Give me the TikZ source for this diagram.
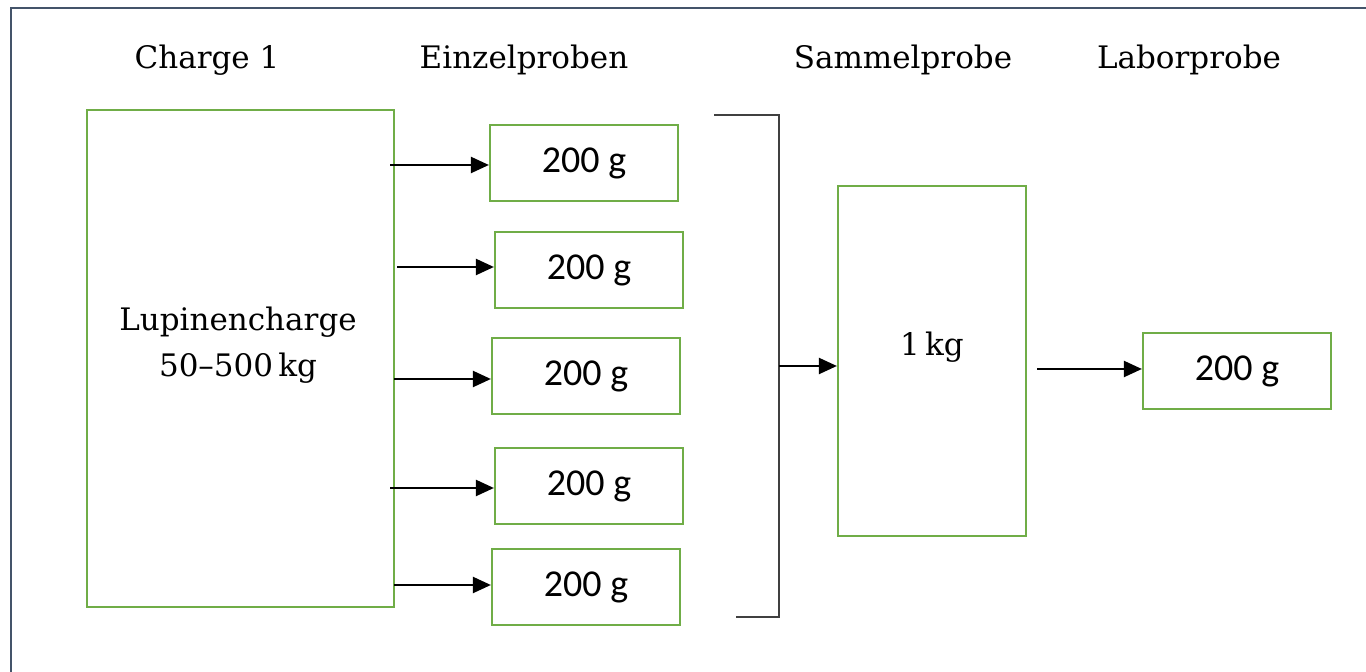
\documentclass[tikz,border=0pt]{standalone}
\usepackage{fontspec}
\setmainfont{DejaVu Serif}
\newfontfamily\carl{Carlito}
\usetikzlibrary{arrows.meta}
\definecolor{boxgreen}{HTML}{70AD47}
\definecolor{framecol}{HTML}{44546A}
\definecolor{brk}{HTML}{404040}
\begin{document}
\begin{tikzpicture}[x=0.5pt,y=-0.5pt,
  gbox/.style={draw=boxgreen,line width=1.1pt,rectangle,inner sep=0pt},
  smallbox/.style={gbox,minimum width=94pt,minimum height=38pt,font=\carl\fontsize{19}{22}\selectfont},
  head/.style={inner sep=0pt,font=\fontsize{15.5}{23}\selectfont},
  flow/.style={line width=1.1pt,-{Triangle[length=9pt,width=8pt]}}]
\useasboundingbox (0,0) rectangle (1366,672);
% frame (cropped at right and bottom)
\draw[framecol,line width=1.1pt] (11,700) -- (11,8) -- (1400,8);
% headings
\node[head] (h1) at (207,60) {Charge 1};
\node[head] (h2) at (524,60) {Einzelproben};
\node[head] (h3) at (903,60) {Sammelprobe};
\node[head] (h4) at (1189,60) {Laborprobe};
% big box
\node[gbox,minimum width=153.5pt,minimum height=248.5pt] (big) at (240.5,358.5) {};
\node[head,align=center] (bigtxt) at (238,345) {Lupinencharge\\50–500\,kg};
% small boxes
\node[smallbox] (s1) at (584,163) {200 g};
\node[smallbox] (s2) at (589,270) {200 g};
\node[smallbox] (s3) at (586,376) {200 g};
\node[smallbox] (s4) at (589,486) {200 g};
\node[smallbox] (s5) at (586,587) {200 g};
% arrows to samples
\draw[flow] (390,165) -- (s1.west |- 0,165);
\draw[flow] (397,267) -- (s2.west |- 0,267);
\draw[flow] (394,379) -- (s3.west |- 0,379);
\draw[flow] (390,488) -- (s4.west |- 0,488);
\draw[flow] (394,585) -- (s5.west |- 0,585);
% bracket
\coordinate (bt) at (714,115);
\coordinate (bb) at (736,617);
\coordinate (bm) at (779,366);
\draw[brk,line width=1.1pt] (bt) -- (779,115) -- (779,617) -- (bb);
% Sammelprobe
\node[gbox,minimum width=94pt,minimum height=175pt] (sam) at (932,361) {};
\node[head] (samtxt) at (932,347) {1\,kg};
\draw[flow] (bm) -- (sam.west |- bm);
% Laborprobe
\node[smallbox] (lab) at (1237,371) {200 g};
\coordinate (sl) at (1037,369);
\draw[flow] (sl) -- (lab.west |- sl);
\end{tikzpicture}
\end{document}
